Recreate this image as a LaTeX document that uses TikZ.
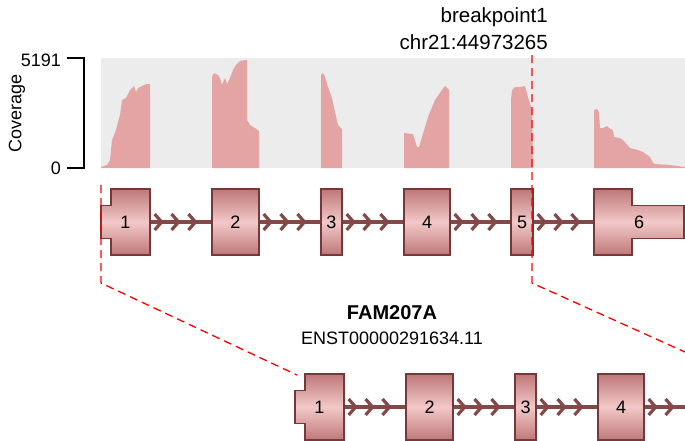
\documentclass[tikz,border=0pt]{standalone}
\usepackage{fontspec}
\setmainfont{Liberation Sans}
\usetikzlibrary{decorations.markings}

\definecolor{covfill}{RGB}{229,164,164}
\definecolor{panelgray}{RGB}{236,236,236}
\definecolor{exonline}{RGB}{118,56,56}
\definecolor{exondark}{RGB}{190,120,120}
\definecolor{exonlight}{RGB}{242,200,200}
\definecolor{intronline}{RGB}{132,72,72}

\tikzset{
  exon/.style={draw=exonline, line width=1.3pt, top color=exondark, bottom color=exondark, middle color=exonlight,
    minimum height=66pt, inner sep=0pt, font=\fontsize{18}{20}\selectfont},
  exonshape/.style={draw=exonline, line width=1.3pt, top color=exondark, bottom color=exondark, middle color=exonlight},
  exonslot/.style={minimum height=66pt, inner sep=0pt, outer sep=0.65pt, font=\fontsize{18}{20}\selectfont},
  intron/.style={draw=intronline, line width=3.8pt, postaction={decorate},
    decoration={markings, mark=between positions 11pt and 1 step 16.9pt with
      {\draw[intronline, line width=3.2pt, line join=miter] (-7pt,8pt) -- (0pt,0pt) -- (-7pt,-8pt);}}},
  bpline/.style={red, line width=1.3pt, dash pattern=on 8pt off 5pt},
  label/.style={font=\fontsize{18}{20}\selectfont, inner sep=0pt},
}

\begin{document}
\begin{tikzpicture}[x=1pt, y=-1pt]

\useasboundingbox (0,0) rectangle (685,440);

% coverage panel
\fill[panelgray] (101,58) rectangle (685,168);
\fill[covfill] (101,168) -- (101,167) -- (107,165) -- (110,160) -- (112,140) -- (116,130) -- (120,115) -- (122,100)
  -- (126,98) -- (130,90) -- (134,86) -- (136,92) -- (138,88) -- (142,86) -- (146,84) -- (150,84) -- (150,168) -- cycle;
\fill[covfill] (212,168) -- (212,77) -- (214,73) -- (218,75) -- (220,78) -- (222,85) -- (225,78) -- (227,84) -- (230,78)
  -- (233,70) -- (236,65) -- (240,61) -- (245,60) -- (247,60) -- (247,120) -- (250,125) -- (255,128) -- (259,131) -- (259,168) -- cycle;
\fill[covfill] (321,168) -- (321,75) -- (323,73) -- (325,77) -- (328,87) -- (332,98) -- (335,112) -- (338,125) -- (342,129) -- (342,168) -- cycle;
\fill[covfill] (404,168) -- (404,133) -- (413,134) -- (417,147) -- (419,147) -- (422,137) -- (428,117) -- (435,100)
  -- (442,90) -- (445,86) -- (449,90) -- (449,168) -- cycle;
\fill[covfill] (511,168) -- (511,100) -- (512,90) -- (515,87) -- (520,87) -- (525,86) -- (528,97) -- (532,110) -- (533,168) -- cycle;
\fill[covfill] (594,168) -- (594,110) -- (597,109) -- (599,112) -- (600,128) -- (603,128) -- (607,126) -- (610,129)
  -- (613,130) -- (614,137) -- (620,138) -- (623,140) -- (630,148) -- (638,150) -- (643,152) -- (650,157) -- (653,163)
  -- (655,164) -- (670,165) -- (685,167) -- (685,168) -- cycle;

% axis
\draw[line width=1.5pt] (67,58) -- (84,58) -- (84,168) -- (67,168);
\node[label, anchor=east] (ymax) at (61,60) {5191};
\node[label, anchor=east] (ymin) at (61,168) {0};
\node[label, rotate=90] (ytitle) at (17,113) {Coverage};

% transcript, top
\path[exonshape] (101,205.5) -- (111,205.5) -- (111,189) -- (150,189) -- (150,255) -- (111,255) -- (111,238.5) -- (101,238.5) -- cycle;
\node[exonslot, minimum width=39pt] (t1) at (130.5,222) {};
\node[label] (t1n) at (125.5,222) {1};
\node[exon, minimum width=47pt] (t2) at (235.5,222) {2};
\node[exon, minimum width=21pt] (t3) at (331.5,222) {3};
\node[exon, minimum width=46pt] (t4) at (427,222) {4};
\node[exon, minimum width=22pt] (t5) at (522,222) {5};
\path[exonshape] (594,189) -- (632,189) -- (632,205.5) -- (684,205.5) -- (684,238.5) -- (632,238.5) -- (632,255) -- (594,255) -- cycle;
\node[exonslot, minimum width=38pt] (t6) at (613,222) {};
\node[label] (t6n) at (639,222) {6};

\draw[intron] (t1) -- (t2);
\draw[intron] (t2) -- (t3);
\draw[intron] (t3) -- (t4);
\draw[intron] (t4) -- (t5);
\draw[intron] (t5) -- (t6);

% transcript, bottom
\path[exonshape] (295,390.5) -- (305,390.5) -- (305,374) -- (344,374) -- (344,440) -- (305,440) -- (305,423.5) -- (295,423.5) -- cycle;
\node[exonslot, minimum width=39pt] (b1) at (324.5,407) {};
\node[label] (b1n) at (319.5,407) {1};
\node[exon, minimum width=47pt] (b2) at (429.5,407) {2};
\node[exon, minimum width=21pt] (b3) at (525.5,407) {3};
\node[exon, minimum width=46pt] (b4) at (621,407) {4};
\coordinate (bend) at (685,407);

\draw[intron] (b1) -- (b2);
\draw[intron] (b2) -- (b3);
\draw[intron] (b3) -- (b4);
\draw[intron] (b4) -- (bend);

\node[font=\fontsize{20}{22}\selectfont\bfseries, inner sep=0pt] (gene) at (392,313) {FAM207A};
\node[label] (tx) at (392,338) {ENST00000291634.11};

% breakpoint
\node[font=\fontsize{20.5}{27}\selectfont, align=right, anchor=south east, inner sep=0pt] (bp) at (548,50)
  {breakpoint1\\chr21:44973265};
\coordinate (bpTop) at (532,55);
\coordinate (bpR) at (532,283);
\coordinate (bpRend) at (685,352);
\coordinate (bpLtop) at (101,185);
\coordinate (bpL) at (101,283);
\coordinate (bpLend) at (297,375);
\draw[bpline] (bpTop) -- (bpR) -- (bpRend);
\draw[bpline] (bpLtop) -- (bpL) -- (bpLend);

\end{tikzpicture}
\end{document}
